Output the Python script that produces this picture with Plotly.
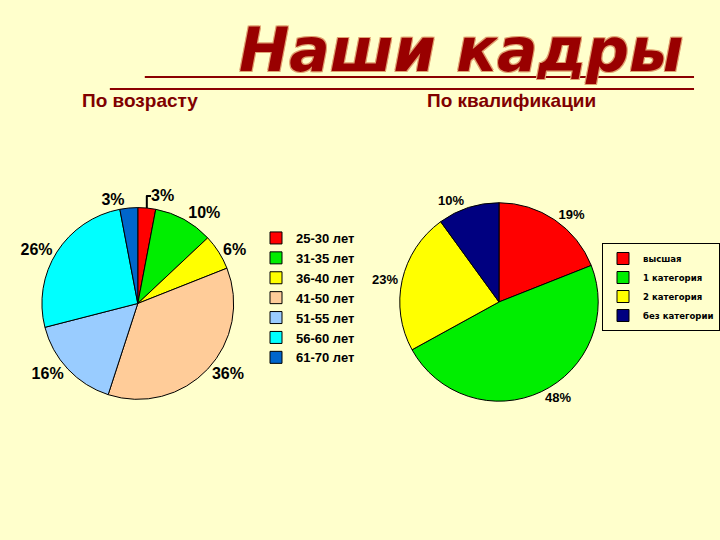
import plotly.graph_objects as go

age_labels = ["25-30 лет", "31-35 лет", "36-40 лет", "41-50 лет", "51-55 лет", "56-60 лет", "61-70 лет"]
age_values = [3, 10, 6, 36, 16, 26, 3]
age_colors = ["#FF0000", "#00EE00", "#FFFF00", "#FFCC99", "#99CCFF", "#00FFFF", "#0066CC"]

qual_labels = ["высшая", "1 категория", "2 категория", "без категории"]
qual_values = [19, 48, 23, 10]
qual_colors = ["#FF0000", "#00EE00", "#FFFF00", "#000080"]

bg = "#FFFFCC"
dark_red = "#8B0000"

fig = go.Figure()

fig.add_trace(go.Pie(
    labels=age_labels, values=age_values, sort=False, direction="clockwise", rotation=0,
    marker=dict(colors=age_colors, line=dict(color="#000000", width=1)),
    texttemplate="%{value}%", textposition="outside",
    textfont=dict(family="Liberation Sans, Arial, sans-serif", size=16, color="#000000", weight="bold"),
    domain=dict(x=[0.0583, 0.325], y=[0.260, 0.616]),
    legend="legend", showlegend=True, hoverinfo="label+percent",
))

fig.add_trace(go.Pie(
    labels=qual_labels, values=qual_values, sort=False, direction="clockwise", rotation=0,
    marker=dict(colors=qual_colors, line=dict(color="#000000", width=1)),
    texttemplate="%{value}%", textposition="outside",
    textfont=dict(family="Liberation Sans, Arial, sans-serif", size=13, color="#000000", weight="bold"),
    domain=dict(x=[0.556, 0.832], y=[0.2556, 0.626]),
    legend="legend2", showlegend=True, hoverinfo="label+percent",
))

fig.update_layout(
    width=720, height=540,
    margin=dict(l=0, r=0, t=0, b=0),
    paper_bgcolor=bg, plot_bgcolor=bg,
    legend=dict(
        x=256/720, y=1 - 223/540, xanchor="left", yanchor="top",
        bgcolor="rgba(0,0,0,0)", borderwidth=0,
        font=dict(family="Liberation Sans, Arial, sans-serif", size=13, color="#000000", weight="bold"),
        itemwidth=30, tracegroupgap=0,
    ),
    legend2=dict(
        x=603/720, y=1 - 243/540, xanchor="left", yanchor="top",
        bgcolor="rgba(0,0,0,0)", bordercolor="#000000", borderwidth=1,
        font=dict(family="DejaVu Sans Condensed, Liberation Sans Narrow, Liberation Sans, Arial, sans-serif",
                  size=9.5, color="#000000", weight="bold"),
        itemwidth=30,
    ),
    annotations=[
        dict(text="Наши кадры", x=462/720, y=1 - 50/540, xref="paper", yref="paper",
             xanchor="center", yanchor="middle", showarrow=False,
             font=dict(family="DejaVu Sans, Liberation Sans, Arial, sans-serif", size=60, color="#990000",
                       weight="bold", style="italic",
                       shadow="1px 1px 0 #E0A070, -1px -1px 0 #E0A070, 1px -1px 0 #E0A070, -1px 1px 0 #E0A070")),
        dict(text="По возрасту", x=140/720, y=1 - 101/540, xref="paper", yref="paper",
             xanchor="center", yanchor="middle", showarrow=False,
             font=dict(family="Liberation Sans, Arial, sans-serif", size=19, color="#800000", weight="bold")),
        dict(text="По квалификации", x=512/720, y=1 - 101/540, xref="paper", yref="paper",
             xanchor="center", yanchor="middle", showarrow=False,
             font=dict(family="Liberation Sans, Arial, sans-serif", size=19, color="#800000", weight="bold")),
    ],
    shapes=[
        dict(type="line", xref="paper", yref="paper", x0=145/720, x1=695/720,
             y0=1 - 77/540, y1=1 - 77/540, line=dict(color=dark_red, width=2)),
        dict(type="line", xref="paper", yref="paper", x0=110/720, x1=695/720,
             y0=1 - 89/540, y1=1 - 89/540, line=dict(color=dark_red, width=2)),
    ],
)

fig.write_html(
    "out.html",
    config={"displayModeBar": False},
    post_script="document.body.style.margin='0';document.body.style.padding='0';"
                "document.body.style.background='#FFFFCC';document.body.style.overflow='hidden';",
)
